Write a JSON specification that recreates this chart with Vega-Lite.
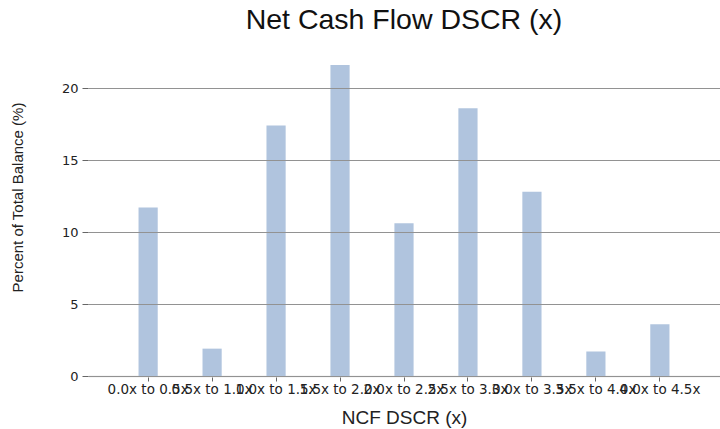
{
  "$schema": "https://vega.github.io/schema/vega-lite/v6.json",
  "autosize": "none",
  "width": 632,
  "height": 324,
  "padding": {"left": 88, "top": 52, "right": 0, "bottom": 53},
  "background": "white",
  "title": {
    "text": "Net Cash Flow DSCR (x)",
    "font": "Liberation Sans",
    "fontSize": 28.5,
    "fontWeight": "normal",
    "color": "#111",
    "anchor": "middle",
    "offset": 18
  },
  "data": {
    "values": [
      {"bucket": "0.0x to 0.5x", "pct": 11.7},
      {"bucket": "0.5x to 1.0x", "pct": 1.9},
      {"bucket": "1.0x to 1.5x", "pct": 17.4},
      {"bucket": "1.5x to 2.0x", "pct": 21.6},
      {"bucket": "2.0x to 2.5x", "pct": 10.6},
      {"bucket": "2.5x to 3.0x", "pct": 18.6},
      {"bucket": "3.0x to 3.5x", "pct": 12.8},
      {"bucket": "3.5x to 4.0x", "pct": 1.7},
      {"bucket": "4.0x to 4.5x", "pct": 3.6}
    ]
  },
  "mark": {"type": "bar", "color": "#b0c4de"},
  "encoding": {
    "x": {
      "field": "bucket",
      "type": "nominal",
      "sort": null,
      "scale": {"paddingInner": 0.7, "paddingOuter": 0.79},
      "axis": {
        "title": "NCF DSCR (x)",
        "titleFont": "Liberation Sans",
        "titleFontSize": 19,
        "titleFontWeight": "normal",
        "titleColor": "#222",
        "titlePadding": 13,
        "labelAngle": 0,
        "labelFont": "DejaVu Sans",
        "labelFontSize": 13.5,
        "labelColor": "#222",
        "labelOverlap": false,
        "labelPadding": 1,
        "tickSize": 5,
        "tickColor": "#666",
        "domain": true,
        "domainColor": "#eeeeee",
        "domainWidth": 2,
        "grid": false
      }
    },
    "y": {
      "field": "pct",
      "type": "quantitative",
      "scale": {"domain": [0, 22.5]},
      "axis": {
        "title": "Percent of Total Balance (%)",
        "titleFont": "Liberation Sans",
        "titleFontSize": 15,
        "titleFontWeight": "normal",
        "titleColor": "#222",
        "titlePadding": 36,
        "titleY": 145,
        "values": [0, 5, 10, 15, 20],
        "labelFont": "DejaVu Sans",
        "labelFontSize": 13,
        "labelColor": "#222",
        "labelPadding": 4,
        "tickSize": 6,
        "tickColor": "#666",
        "domain": false,
        "grid": true,
        "gridColor": "#929292",
        "gridWidth": 1.2,
        "zindex": 1
      }
    }
  },
  "config": {"view": {"stroke": null}}
}
